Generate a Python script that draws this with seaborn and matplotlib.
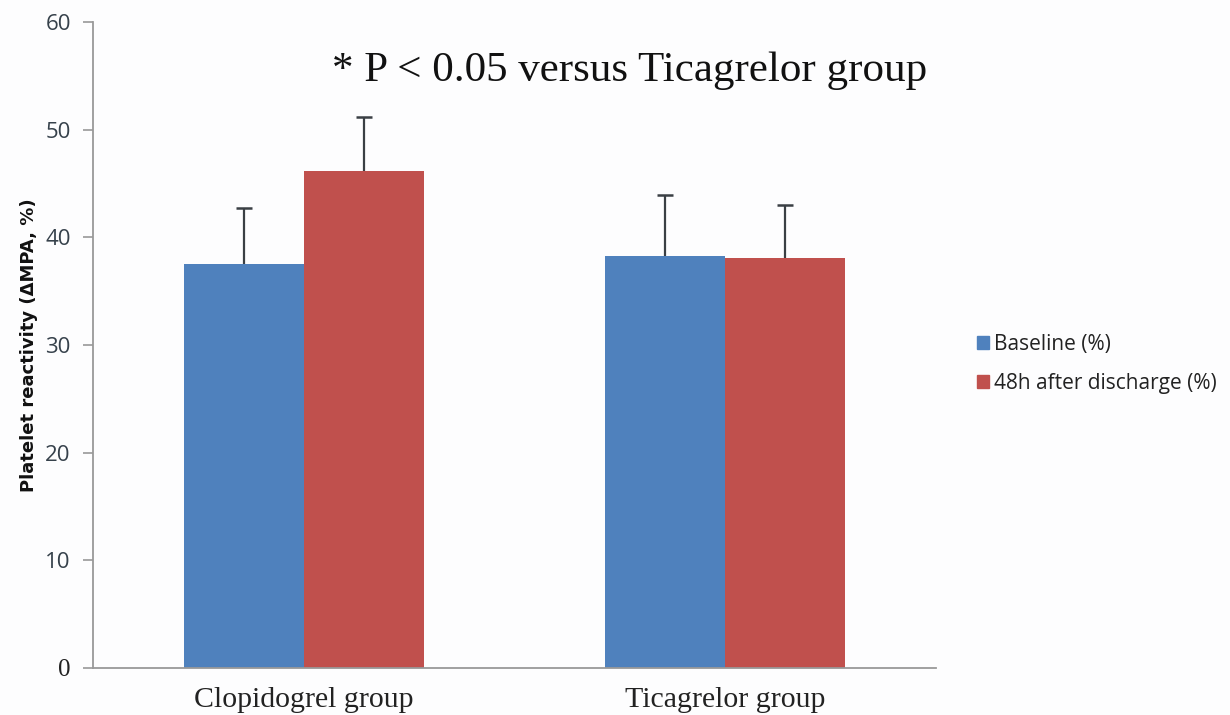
import matplotlib
matplotlib.use("Agg")
import matplotlib.pyplot as plt
import seaborn as sns
import pandas as pd

groups = ["Clopidogrel group", "Ticagrelor group"]
series = ["Baseline (%)", "48h after discharge (%)"]
baseline = [37.5, 38.3]
after48 = [46.2, 38.1]
baseline_err = [5.2, 5.6]
after48_err = [5.0, 4.9]
yticks = [0, 10, 20, 30, 40, 50, 60]
colors = ["#4F81BD", "#C0504D"]

df = pd.DataFrame({
    "group": groups * 2,
    "series": [series[0]] * 2 + [series[1]] * 2,
    "value": baseline + after48,
})

sns.set_style("white")
fig = plt.figure(figsize=(12.3, 7.15), dpi=100)
fig.patch.set_facecolor("#fdfdfe")
ax = fig.add_axes([93 / 1230, 1 - 668 / 715, (936 - 93) / 1230, (668 - 22) / 715])
ax.set_facecolor("none")

sns.barplot(data=df, x="group", y="value", hue="series", order=groups,
            hue_order=series, palette=colors, saturation=1, width=0.57,
            gap=0, errorbar=None, ax=ax, legend=True, linewidth=0)

errs = [baseline_err, after48_err]
for cont, err in zip(ax.containers, errs):
    for bar, e in zip(cont, err):
        xc = bar.get_x() + bar.get_width() / 2
        h = bar.get_height()
        ax.plot([xc, xc], [h, h + e], color="#3a3f44", lw=1.6,
                solid_capstyle="butt", zorder=3)
        ax.plot([xc], [h + e], marker="_", markersize=11, mew=1.8,
                color="#3a3f44", zorder=3)

ax.set_xlim(-0.5, 1.5)
ax.set_ylim(0, 60)
ax.set_yticks(yticks)
ax.set_yticklabels([str(t) for t in yticks], fontsize=16, color="#36414b",
                   family="Open Sans")
ax.get_yticklabels()[0].set_family("Liberation Serif")
ax.get_yticklabels()[0].set_fontsize(18)
ax.get_yticklabels()[0].set_color("#222222")
ax.set_xticks(range(len(groups)))
ax.set_xticklabels(groups, family="Liberation Serif", fontsize=21.5, color="#222222")
ax.tick_params(axis="x", length=0, pad=14)
ax.tick_params(axis="y", length=7, width=1.2, color="#999999", pad=9, direction="out", left=True)
ax.set_xlabel("")
ax.set_ylabel("Platelet reactivity (ΔMPA, %)", fontsize=13, fontweight="bold",
              family="DejaVu Sans", color="#111111", labelpad=5)
for s in ["top", "right"]:
    ax.spines[s].set_visible(False)
for s in ["left", "bottom"]:
    ax.spines[s].set_color("#999999")
    ax.spines[s].set_linewidth(1.3)

ax.legend_.remove()
handles = [plt.Rectangle((0, 0), 1, 1, color=c) for c in colors]
fig.legend(handles, series, loc="center left",
           bbox_to_anchor=(958 / 1230, 1 - 364 / 715), frameon=False,
           handlelength=0.6, handleheight=0.6, handletextpad=0.25,
           labelspacing=0.88, prop={"family": "Open Sans", "size": 15},
           labelcolor="#222222")

fig.text(630 / 1230, 1 - 71 / 715, "* P < 0.05 versus Ticagrelor group",
         ha="center", va="center", family="Liberation Serif", fontsize=31,
         color="#111111")

fig.savefig("out.png", dpi=100, facecolor=fig.get_facecolor())
